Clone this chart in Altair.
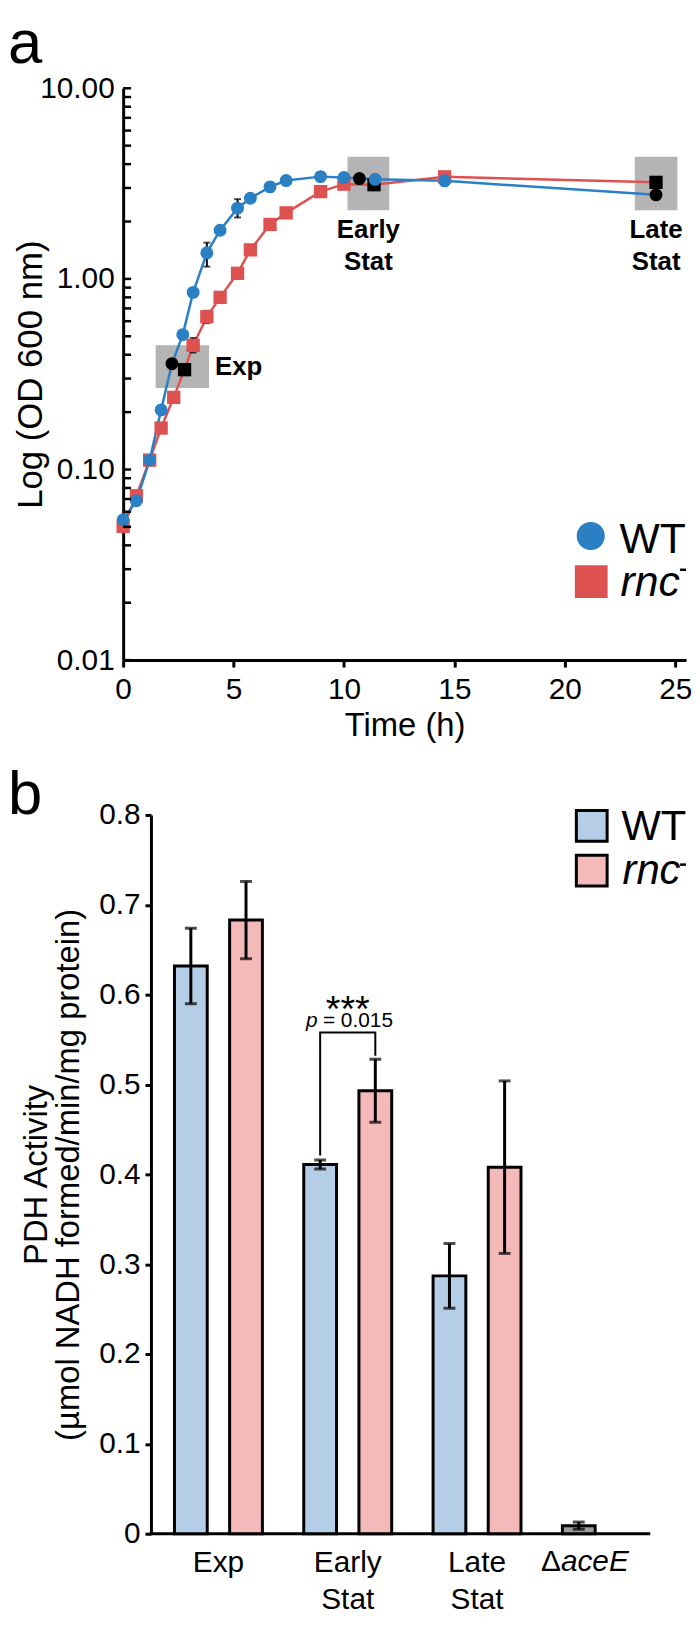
import altair as alt
import pandas as pd

FONT = "Liberation Sans"

# ---------------- panel a : growth curves ----------------
wt_time = [0.0, 0.6, 1.2, 1.72, 2.21, 2.70, 3.17, 3.79, 4.39, 5.18, 5.76, 6.65, 7.38, 8.94, 10.0, 10.70, 11.41, 14.56, 24.13]
wt_od = [0.0545, 0.0686, 0.112, 0.2055, 0.359, 0.51, 0.85, 1.37, 1.80, 2.35, 2.65, 3.04, 3.28, 3.44, 3.40, 3.36, 3.33, 3.27, 2.76]
wt_sampled = [0, 0, 0, 0, 1, 0, 0, 0, 0, 0, 0, 0, 0, 0, 0, 1, 0, 0, 1]

rnc_time = [0.0, 0.6, 1.2, 1.72, 2.29, 2.78, 3.17, 3.79, 4.39, 5.18, 5.76, 6.65, 7.38, 8.94, 10.0, 11.36, 14.56, 24.13]
rnc_od = [0.0503, 0.0728, 0.112, 0.165, 0.239, 0.334, 0.448, 0.633, 0.80, 1.07, 1.42, 1.93, 2.22, 2.87, 3.14, 3.12, 3.43, 3.21]
rnc_sampled = [0, 0, 0, 0, 0, 1, 0, 0, 0, 0, 0, 0, 0, 0, 0, 1, 0, 1]

err_strain = ["WT", "WT", "rnc", "rnc"]
err_time = [3.79, 5.18, 3.17, 3.79]
err_low = [1.16, 2.10, 0.411, 0.586]
err_high = [1.55, 2.62, 0.49, 0.68]

phase_labels = ["Exp", "Early\nStat", "Late\nStat"]
phase_t_start = [1.47, 10.16, 23.17]
phase_t_end = [3.89, 12.05, 25.10]
phase_od_low = [0.268, 2.29, 2.29]
phase_od_high = [0.449, 4.37, 4.37]

od_major = [0.01, 0.1, 1, 10]
od_all_ticks = [0.01, 0.02, 0.03, 0.04, 0.05, 0.06, 0.07, 0.08, 0.09,
                0.1, 0.2, 0.3, 0.4, 0.5, 0.6, 0.7, 0.8, 0.9,
                1, 2, 3, 4, 5, 6, 7, 8, 9, 10]
time_ticks = [0, 5, 10, 15, 20, 25]

# ---------------- panel b : PDH activity ----------------
phases_b = ["Exp", "Early Stat", "Late Stat", "ΔaceE"]
phase_b_text = ["Exp", "Early\nStat", "Late\nStat"]
wt_pdh = [0.632, 0.411, 0.287]
wt_pdh_err = [0.042, 0.005, 0.036]
rnc_pdh = [0.683, 0.493, 0.408]
rnc_pdh_err = [0.043, 0.035, 0.096]
acee_pdh = 0.009
acee_pdh_err = 0.004
pdh_ticks = [0, 0.1, 0.2, 0.3, 0.4, 0.5, 0.6, 0.7, 0.8]

sig_phase = "Early Stat"
sig_top = 0.558
sig_left_bottom = 0.421
sig_right_bottom = 0.532

# colours
BLUE = "#2b7fc3"
RED = "#de5151"
BOX_GRAY = "#b4b4b4"
LIGHT_BLUE = "#b4cee7"
PINK = "#f4b9b9"
BAR_GRAY = "#9c9c9c"

WA, HA = 567, 576
WB, HB = 531, 724
BX = 28  # inset of panel b's y axis inside its plot box

# ================= panel a =================
rows = []
for t, o, s in zip(rnc_time, rnc_od, rnc_sampled):
    rows.append({"strain": "rnc", "t": t, "od": o, "sample": s})
for t, o, s in zip(wt_time, wt_od, wt_sampled):
    rows.append({"strain": "WT", "t": t, "od": o, "sample": s})
df_a = pd.DataFrame(rows)
df_a["seq"] = range(len(df_a))

df_err = pd.DataFrame({"strain": err_strain, "t": err_time, "od": err_low, "od2": err_high})
df_caps = pd.DataFrame({"t": err_time + err_time, "od": err_low + err_high})

df_box = pd.DataFrame({"label": phase_labels, "t": phase_t_start, "t2": phase_t_end,
                       "od": phase_od_low, "od2": phase_od_high})
df_box["tm"] = (df_box["t"] + df_box["t2"]) / 2
df_box["odm"] = (df_box["od"] * df_box["od2"]) ** 0.5

df_yt = pd.DataFrame({"od": od_all_ticks})

xs_a = alt.Scale(domain=[0, 25.49], nice=False, zero=False)
ys_a = alt.Scale(type="log", domain=[0.01, 10], nice=False)
x_axis_a = alt.Axis(values=time_ticks, tickSize=7, tickWidth=3, domainWidth=3,
                    labelFontSize=30, labelPadding=8, title="Time (h)",
                    titleFontSize=33, titleFontWeight="normal", titlePadding=5,
                    grid=False, labelFlush=False)
y_axis_a = alt.Axis(values=od_major, labelExpr="format(datum.value, '.2f')",
                    ticks=False, domainWidth=3, labelFontSize=30, labelPadding=9,
                    title="Log (OD 600 nm)", titleFontSize=35, titleFontWeight="normal",
                    titleX=-82, titleBaseline="alphabetic", grid=False)


def XA(f):
    return alt.X(f, type="quantitative", scale=xs_a, axis=x_axis_a)


def YA(f):
    return alt.Y(f, type="quantitative", scale=ys_a, axis=y_axis_a)


strain_color = alt.Scale(domain=["WT", "rnc"], range=[BLUE, RED])

boxes = alt.Chart(df_box).mark_rect(color=BOX_GRAY).encode(
    x=XA("t"), x2="t2", y=YA("od"), y2="od2")

lines = alt.Chart(df_a).mark_line(strokeWidth=2.5).encode(
    x=XA("t"), y=YA("od"),
    color=alt.Color("strain:N", scale=strain_color, legend=None),
    detail="strain:N", order="t:Q")

err_rules = alt.Chart(df_err).mark_rule(color="black", strokeWidth=2).encode(
    x=XA("t"), y=YA("od"), y2="od2")
err_caps = alt.Chart(df_caps).mark_tick(color="black", thickness=2, size=7,
                                        orient="horizontal").encode(x=XA("t"), y=YA("od"))

points = alt.Chart(df_a).mark_point(filled=True, opacity=1).encode(
    x=XA("t"), y=YA("od"),
    shape=alt.Shape("strain:N", scale=alt.Scale(domain=["WT", "rnc"], range=["circle", "square"]), legend=None),
    size=alt.Size("strain:N", scale=alt.Scale(domain=["WT", "rnc"], range=[170, 180]), legend=None),
    color=alt.condition("datum.sample == 1", alt.value("black"),
                        alt.Color("strain:N", scale=strain_color, legend=None)),
    order="seq:Q")

yticks = alt.Chart(df_yt).mark_rule(color="black", strokeWidth=2.5).encode(
    y=YA("od"), x=alt.value(0), x2=alt.value(8))

exp_label = alt.Chart(df_box.iloc[[0]]).mark_text(
    font=FONT, fontSize=26, fontWeight="bold", align="left", baseline="middle", dx=6, dy=1
).encode(x=XA("t2"), y=YA("odm"), text="label:N")

stat_labels = alt.Chart(df_box.iloc[1:]).mark_text(
    font=FONT, fontSize=26, fontWeight="bold", align="center", baseline="top", dy=7,
    lineBreak="\n", lineHeight=32
).encode(x=XA("tm"), y=YA("od"), text="label:N")

one = pd.DataFrame({"k": [0]})
leg_a = [
    alt.Chart(one).mark_point(shape="circle", filled=True, opacity=1, color=BLUE, size=800).encode(
        x=alt.value(471), y=alt.value(451)),
    alt.Chart(one).mark_point(shape="square", filled=True, opacity=1, color=RED, size=1089).encode(
        x=alt.value(471.5), y=alt.value(497)),
    alt.Chart(one).mark_text(text="WT", font=FONT, fontSize=43, align="left", baseline="alphabetic").encode(
        x=alt.value(500), y=alt.value(468)),
    alt.Chart(one).mark_text(text="rnc", font=FONT, fontSize=43, fontStyle="italic", align="left",
                             baseline="alphabetic").encode(x=alt.value(501), y=alt.value(511)),
    alt.Chart(one).mark_rule(color="black", strokeWidth=2.5).encode(
        x=alt.value(561), x2=alt.value(567), y=alt.value(485)),
    alt.Chart(one).mark_text(text="a", font=FONT, fontSize=62, align="left", baseline="top").encode(
        x=alt.value(-116), y=alt.value(-74)),
]

chart_a = alt.layer(boxes, lines, err_rules, err_caps, points, yticks, exp_label, stat_labels,
                    *leg_a).properties(width=WA, height=HA)

# ================= panel b =================
rows_b = []
for p, v, e in zip(phases_b[:3], wt_pdh, wt_pdh_err):
    rows_b.append({"phase": p, "slot": "WT", "fillkey": "WT", "v": v, "lo": v - e, "hi": v + e})
for p, v, e in zip(phases_b[:3], rnc_pdh, rnc_pdh_err):
    rows_b.append({"phase": p, "slot": "rnc", "fillkey": "rnc", "v": v, "lo": v - e, "hi": v + e})
rows_b.append({"phase": phases_b[3], "slot": "WT", "fillkey": "ΔaceE", "v": acee_pdh,
               "lo": acee_pdh - acee_pdh_err, "hi": acee_pdh + acee_pdh_err})
df_b = pd.DataFrame(rows_b)
df_bcaps = pd.concat([df_b.assign(v=df_b["lo"]), df_b.assign(v=df_b["hi"])])

df_sig = pd.DataFrame({"phase": [sig_phase] * 4, "slot": ["WT", "WT", "rnc", "rnc"],
                       "v": [sig_left_bottom, sig_top, sig_top, sig_right_bottom], "o": [0, 1, 2, 3]})
df_sigtxt = pd.DataFrame({"phase": [sig_phase], "v": [sig_top]})
df_xlab = pd.DataFrame({"phase": phases_b[:3], "txt": phase_b_text, "v": [0, 0, 0]})
df_acee_lab = pd.DataFrame({"phase": [phases_b[3]], "slot": ["WT"], "v": [0]})
df_zero = pd.DataFrame({"v": [0]})

xs_b = alt.Scale(domain=phases_b, paddingInner=0.32, paddingOuter=0.1984, align=1)
x_axis_b = alt.Axis(labels=False, ticks=False, title=None, domain=False, grid=False)
ys_b = alt.Scale(domain=[0, 0.8], nice=False, zero=True)
y_axis_b = alt.Axis(values=pdh_ticks, offset=-BX,
                    labelExpr="datum.value == 0 ? '0' : format(datum.value, '.1f')",
                    tickSize=6, tickWidth=3, domainWidth=3, labelFontSize=30, labelPadding=5,
                    title=["PDH Activity", "(µmol NADH formed/min/mg protein)"],
                    titleFontSize=33, titleFontWeight="normal", titleLineHeight=32,
                    titleX=-105, titleBaseline="alphabetic", grid=False)
xo = alt.XOffset("slot:N", scale=alt.Scale(domain=["WT", "rnc"], paddingInner=0.406, paddingOuter=0))


def XB():
    return alt.X("phase:N", scale=xs_b, axis=x_axis_b, sort=phases_b)


def YB(f="v"):
    return alt.Y(f, type="quantitative", scale=ys_b, axis=y_axis_b)


baseline_b = alt.Chart(df_zero).mark_rule(color="black", strokeWidth=3).encode(
    y=YB(), x=alt.value(BX - 1.5), x2=alt.value(WB))
bars = alt.Chart(df_b).mark_bar(stroke="black", strokeWidth=3).encode(
    x=XB(), xOffset=xo, y=YB(),
    fill=alt.Fill("fillkey:N", scale=alt.Scale(domain=["WT", "rnc", "ΔaceE"],
                                               range=[LIGHT_BLUE, PINK, BAR_GRAY]), legend=None))
b_err = alt.Chart(df_b).mark_rule(color="black", strokeWidth=3).encode(
    x=XB(), xOffset=xo, y=YB("lo"), y2="hi")
b_caps = alt.Chart(df_bcaps).mark_tick(color="black", thickness=3, size=12).encode(
    x=XB(), xOffset=xo, y=YB())
sig_line = alt.Chart(df_sig).mark_line(color="black", strokeWidth=2).encode(
    x=XB(), xOffset=xo, y=YB(), order="o:Q")
stars = alt.Chart(df_sigtxt).mark_text(text="***", font=FONT, fontSize=38, align="center",
                                       baseline="alphabetic", dy=-10).encode(x=XB(), y=YB())
p_it = alt.Chart(df_sigtxt).mark_text(text="p", font=FONT, fontSize=21, fontStyle="italic",
                                      align="left", baseline="alphabetic", dx=-42, dy=-5).encode(x=XB(), y=YB())
p_val = alt.Chart(df_sigtxt).mark_text(text="= 0.015", font=FONT, fontSize=21, align="left",
                                       baseline="alphabetic", dx=-25, dy=-5).encode(x=XB(), y=YB())
xlabs = alt.Chart(df_xlab).mark_text(font=FONT, fontSize=30, align="center", baseline="alphabetic",
                                     lineBreak="\n", lineHeight=37).encode(
    x=XB(), y=alt.value(HB + 39), text="txt:N")
delta_lab = alt.Chart(df_acee_lab).mark_text(text="Δ", font=FONT, fontSize=30, align="right",
                                             baseline="alphabetic", dx=-18).encode(
    x=XB(), xOffset=xo, y=alt.value(HB + 38))
acee_lab = alt.Chart(df_acee_lab).mark_text(text="aceE", font=FONT, fontSize=30, fontStyle="italic",
                                            align="left", baseline="alphabetic", dx=-18).encode(
    x=XB(), xOffset=xo, y=alt.value(HB + 38))

leg_b = [
    alt.Chart(one).mark_point(shape="square", filled=True, opacity=1, fill=LIGHT_BLUE, stroke="black",
                              strokeWidth=3, size=961).encode(x=alt.value(444 + BX), y=alt.value(11)),
    alt.Chart(one).mark_point(shape="square", filled=True, opacity=1, fill=PINK, stroke="black",
                              strokeWidth=3, size=961).encode(x=alt.value(444 + BX), y=alt.value(56)),
    alt.Chart(one).mark_text(text="WT", font=FONT, fontSize=42, align="left", baseline="alphabetic").encode(
        x=alt.value(474 + BX), y=alt.value(25)),
    alt.Chart(one).mark_text(text="rnc", font=FONT, fontSize=42, fontStyle="italic", align="left",
                             baseline="alphabetic").encode(x=alt.value(475 + BX), y=alt.value(70)),
    alt.Chart(one).mark_rule(color="black", strokeWidth=2.5).encode(
        x=alt.value(533 + BX), x2=alt.value(539 + BX), y=alt.value(50)),
    alt.Chart(one).mark_text(text="b", font=FONT, fontSize=62, align="left", baseline="top").encode(
        x=alt.value(-116), y=alt.value(-50)),
]

chart_b = alt.layer(baseline_b, bars, b_err, b_caps, sig_line, stars, p_it, p_val, xlabs, delta_lab,
                    acee_lab, *leg_b).properties(width=WB, height=HB)


def build(pad, spacing):
    return alt.vconcat(chart_a, chart_b, spacing=spacing).properties(padding=pad).configure(
        font=FONT).configure_view(stroke=None).configure_axis(
        labelFont=FONT, titleFont=FONT, labelColor="black", titleColor="black",
        domainColor="black", tickColor="black")


try:
    chart = build({"left": 0, "top": 0, "right": 0, "bottom": -5}, 22)
    chart.to_dict()
except Exception:
    chart = build({"left": 0, "top": 0, "right": 0, "bottom": 0}, 18)

chart.save("out.html", embed_options={"renderer": "svg", "actions": False})
